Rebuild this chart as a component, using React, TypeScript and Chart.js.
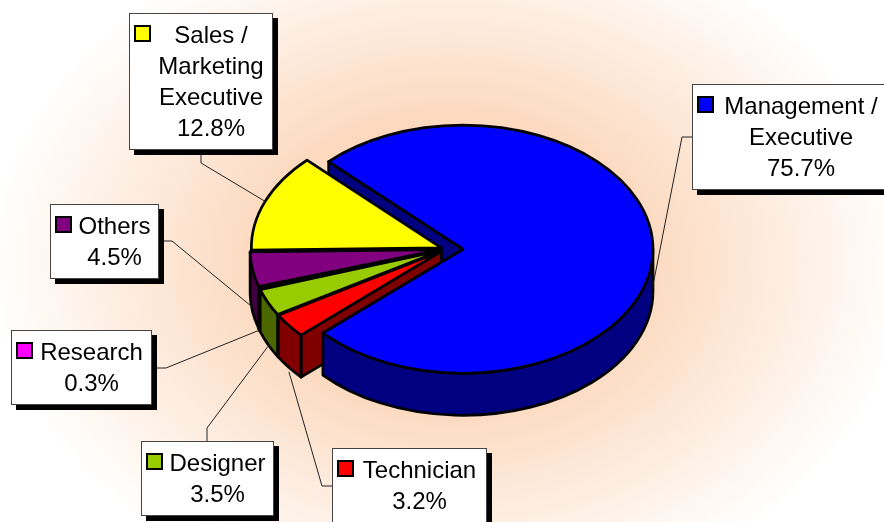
import React, { useEffect, useRef } from 'react';
import { Chart, registerables } from 'chart.js';

Chart.register(...registerables);

// ---------------- data ----------------
const categories = [
  'Management / Executive',
  'Technician',
  'Designer',
  'Research',
  'Others',
  'Sales / Marketing Executive',
];
const labelLines = [
  ['Management /', 'Executive'],
  ['Technician'],
  ['Designer'],
  ['Research'],
  ['Others'],
  ['Sales /', 'Marketing', 'Executive'],
];
const shares = [75.7, 3.2, 3.5, 0.3, 4.5, 12.8];
const topColors = ['#0000FF', '#FF0000', '#99CC00', '#FF00FF', '#800080', '#FFFF00'];
const sideColors = ['#000080', '#800000', '#4C6600', '#800080', '#400040', '#808000'];

// ---------------- layout ----------------
const WIDTH = 884;
const HEIGHT = 522;
const PIE_RADIUS = 190;
const TILT = 0.653;
const DEPTH = 42;
const START_ROTATION = -45;
const explodeBy = [17, 6, 6, 6, 6, 5];
const FONT = '24px "Liberation Sans", Arial, sans-serif';
const LINE_H = 31;

const labelBoxes = [
  { x: 692, y: 84, w: 198, fromX: 692, fromY: 137, elbowX: 682, elbowY: 137, drop: 0.8 },
  { x: 332, y: 448, w: 155, fromX: 332, fromY: 486, elbowX: 322, elbowY: 486, drop: 1.1 },
  { x: 141, y: 441, w: 133, fromX: 207, fromY: 441, elbowX: 207, elbowY: 428, drop: 1.05 },
  { x: 11, y: 330, w: 141, fromX: 152, fromY: 368, elbowX: 166, elbowY: 368, drop: 1.0 },
  { x: 50, y: 204, w: 109, fromX: 159, fromY: 241, elbowX: 172, elbowY: 241, drop: 0.9 },
  { x: 129, y: 13, w: 144, fromX: 201, fromY: 150, elbowX: 201, elbowY: 163, drop: 0 },
];

const TAU = Math.PI * 2;

type Slice = {
  i: number; cx: number; cy: number; rx: number; ry: number;
  a0: number; a1: number; mid: number;
};

function sliceGeometry(chart: any): Slice[] {
  const meta = chart.getDatasetMeta(0);
  return meta.data.map((arc: any, i: number) => {
    const p = arc.getProps(['x', 'y', 'startAngle', 'endAngle', 'outerRadius'], true);
    const mid = (p.startAngle + p.endAngle) / 2;
    const e = explodeBy[i] || 0;
    const rx = p.outerRadius;
    const ry = p.outerRadius * TILT;
    return {
      i,
      cx: p.x + e * Math.cos(mid),
      cy: p.y + e * TILT * Math.sin(mid),
      rx, ry,
      a0: p.startAngle, a1: p.endAngle, mid,
    };
  });
}

function paint(ctx: CanvasRenderingContext2D, fill: string) {
  ctx.fillStyle = fill;
  ctx.fill();
  ctx.lineWidth = 2.7;
  ctx.lineJoin = 'round';
  ctx.strokeStyle = '#000';
  ctx.stroke();
}

function drawRadialWall(ctx: CanvasRenderingContext2D, s: Slice, a: number) {
  const px = s.cx + s.rx * Math.cos(a);
  const py = s.cy + s.ry * Math.sin(a);
  ctx.beginPath();
  ctx.moveTo(s.cx, s.cy);
  ctx.lineTo(px, py);
  ctx.lineTo(px, py + DEPTH);
  ctx.lineTo(s.cx, s.cy + DEPTH);
  ctx.closePath();
  paint(ctx, sideColors[s.i]);
}

function drawOuterWall(ctx: CanvasRenderingContext2D, s: Slice, b0: number, b1: number) {
  ctx.beginPath();
  ctx.ellipse(s.cx, s.cy, s.rx, s.ry, 0, b0, b1, false);
  ctx.lineTo(s.cx + s.rx * Math.cos(b1), s.cy + s.ry * Math.sin(b1) + DEPTH);
  ctx.ellipse(s.cx, s.cy + DEPTH, s.rx, s.ry, 0, b1, b0, true);
  ctx.closePath();
  paint(ctx, sideColors[s.i]);
}

function drawTop(ctx: CanvasRenderingContext2D, s: Slice) {
  ctx.beginPath();
  ctx.moveTo(s.cx, s.cy);
  ctx.ellipse(s.cx, s.cy, s.rx, s.ry, 0, s.a0, s.a1, false);
  ctx.closePath();
  paint(ctx, topColors[s.i]);
}

const pie3d = {
  id: 'pie3d',
  beforeDraw(chart: any) {
    const ctx: CanvasRenderingContext2D = chart.ctx;
    ctx.save();
    ctx.fillStyle = '#FFFFFF';
    ctx.fillRect(0, 0, WIDTH, HEIGHT);
    ctx.translate(450, 262);
    ctx.scale(460, 350);
    const g = ctx.createRadialGradient(0, 0, 0, 0, 0, 1);
    g.addColorStop(0, '#F9CDA8');
    g.addColorStop(0.2, '#FAD2B2');
    g.addColorStop(0.43, '#FCDAC0');
    g.addColorStop(1, '#FFFFFF');
    ctx.fillStyle = g;
    ctx.fillRect(-1.2, -1.2, 2.4, 2.4);
    ctx.restore();
  },
  beforeDatasetsDraw(chart: any) {
    const ctx: CanvasRenderingContext2D = chart.ctx;
    const slices = sliceGeometry(chart);
    const faces: { key: number; draw: () => void }[] = [];
    slices.forEach((s) => {
      if (Math.cos(s.a0) < -1e-6) {
        faces.push({ key: s.cy + (s.ry * Math.sin(s.a0)) / 2, draw: () => drawRadialWall(ctx, s, s.a0) });
      }
      if (Math.cos(s.a1) > 1e-6) {
        faces.push({ key: s.cy + (s.ry * Math.sin(s.a1)) / 2, draw: () => drawRadialWall(ctx, s, s.a1) });
      }
      const kStart = Math.floor(s.a0 / TAU) - 1;
      const kEnd = Math.ceil(s.a1 / TAU) + 1;
      for (let k = kStart; k <= kEnd; k++) {
        const b0 = Math.max(s.a0, k * TAU);
        const b1 = Math.min(s.a1, k * TAU + Math.PI);
        if (b1 > b0 + 1e-4) {
          faces.push({
            key: s.cy + s.ry * Math.sin((b0 + b1) / 2),
            draw: () => drawOuterWall(ctx, s, b0, b1),
          });
        }
      }
    });
    ctx.save();
    faces.sort((a, b) => a.key - b.key).forEach((f) => f.draw());
    slices
      .slice()
      .sort((a, b) => a.cy + a.ry * Math.sin(a.mid) * 0.5 - (b.cy + b.ry * Math.sin(b.mid) * 0.5))
      .forEach((s) => drawTop(ctx, s));
    ctx.restore();
    return false;
  },
  afterDraw(chart: any) {
    const ctx: CanvasRenderingContext2D = chart.ctx;
    const slices = sliceGeometry(chart);
    ctx.save();
    // leader lines
    labelBoxes.forEach((b, i) => {
      const s = slices[i];
      const ax = s.cx + s.rx * Math.cos(s.mid);
      const ay = s.cy + s.ry * Math.sin(s.mid) + b.drop * DEPTH;
      ctx.beginPath();
      ctx.moveTo(b.fromX, b.fromY);
      ctx.lineTo(b.elbowX, b.elbowY);
      ctx.lineTo(ax, ay);
      ctx.strokeStyle = '#222';
      ctx.lineWidth = 1;
      ctx.stroke();
    });
    // label boxes
    labelBoxes.forEach((b, i) => {
      const lines = [...labelLines[i], shares[i].toFixed(1) + '%'];
      const h = 44 + (lines.length - 1) * LINE_H;
      ctx.fillStyle = '#000';
      ctx.fillRect(b.x + 5, b.y + 5, b.w, h);
      ctx.fillStyle = '#FFF';
      ctx.fillRect(b.x, b.y, b.w, h);
      ctx.strokeStyle = '#444';
      ctx.lineWidth = 1;
      ctx.strokeRect(b.x + 0.5, b.y + 0.5, b.w - 1, h - 1);
      const base = b.y + 30;
      ctx.fillStyle = topColors[i];
      ctx.fillRect(b.x + 6, base - 17, 15, 15);
      ctx.lineWidth = 2;
      ctx.strokeStyle = '#000';
      ctx.strokeRect(b.x + 6, base - 17, 15, 15);
      ctx.font = FONT;
      ctx.fillStyle = '#000';
      ctx.textAlign = 'center';
      ctx.textBaseline = 'alphabetic';
      lines.forEach((t, j) => ctx.fillText(t, b.x + b.w / 2 + 10, base + j * LINE_H));
    });
    ctx.restore();
  },
};

export default function App() {
  const ref = useRef<HTMLCanvasElement | null>(null);
  useEffect(() => {
    if (!ref.current) return;
    const chart = new Chart(ref.current, {
      type: 'pie',
      data: {
        labels: categories,
        datasets: [
          {
            data: shares,
            backgroundColor: topColors,
            borderColor: '#000',
            borderWidth: 0,
          },
        ],
      },
      options: {
        animation: false,
        responsive: false,
        events: [],
        radius: PIE_RADIUS,
        rotation: START_ROTATION,
        layout: { padding: { left: 8, right: 0, top: 0, bottom: 24 } },
        plugins: {
          legend: { display: false },
          tooltip: { enabled: false },
        },
      } as any,
      plugins: [pie3d as any],
    });
    return () => chart.destroy();
  }, []);
  return (
    <div style={{ position: 'fixed', left: 0, top: 0, width: WIDTH, height: HEIGHT, overflow: 'hidden' }}>
      <canvas ref={ref} width={WIDTH} height={HEIGHT} style={{ display: 'block' }} />
    </div>
  );
}
